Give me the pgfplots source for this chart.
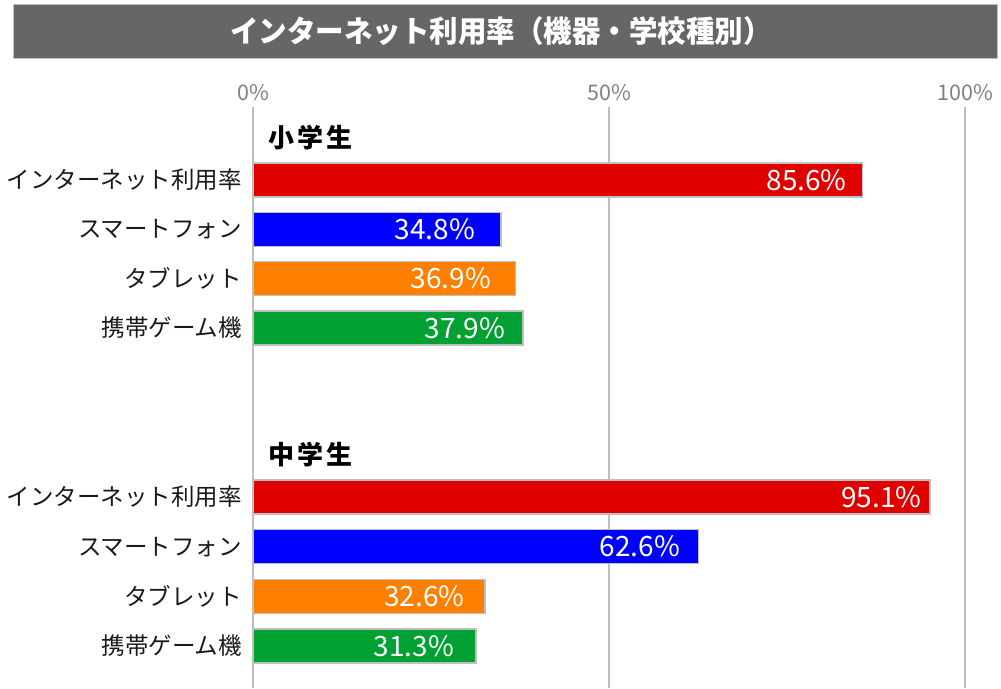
\documentclass[border=0pt]{standalone}
\usepackage{fontspec}
\setmainfont{Noto Sans CJK JP}
\usepackage{pgfplots}
\usepackage{pgfplotstable}
\pgfplotsset{compat=1.18}

\definecolor{cred}{HTML}{E00000}
\definecolor{cblue}{HTML}{0000FF}
\definecolor{corange}{HTML}{FF8000}
\definecolor{cgreen}{HTML}{00A032}
\definecolor{titlebg}{HTML}{666666}
\definecolor{edge}{HTML}{BFBFBF}

% x = percent, y = row position (px from top), off = label inset
\pgfplotstableread{
x y off
85.6 180 15
95.1 497 8
}\netdata
\pgfplotstableread{
x y off
34.8 229.3 25
62.6 546.7 18
}\phonedata
\pgfplotstableread{
x y off
36.9 278.6 24
32.6 596.4 20
}\tabdata
\pgfplotstableread{
x y off
37.9 328 17
31.3 646 21
}\gamedata

\begin{document}
\begin{tikzpicture}
\path[use as bounding box] (0,0) rectangle (1001pt,-688pt);
\fill[titlebg, draw=edge, line width=0.8pt] (13pt,-4pt) rectangle (997pt,-58pt);
\node[text=white, font=\fontsize{30}{32}\selectfont\bfseries, xscale=0.95] at (501pt,-31pt)
  {インターネット利用率（機器・学校種別）};

\begin{axis}[
    at={(253pt,-107pt)}, anchor=north west,
    scale only axis,
    width=712pt, height=581pt,
    xmin=0, xmax=100,
    ymin=107, ymax=688,
    y dir=reverse,
    xbar, bar shift=0pt,
    bar width=34pt,
    axis line style={draw=none},
    major tick length=0pt,
    xtick={0,50,100},
    xticklabels={0\%,50\%,100\%},
    xticklabel pos=upper,
    xticklabel style={font=\fontsize{21.5}{22}\selectfont, text=gray, anchor=base, yshift=6.5pt},
    xmajorgrids,
    grid style={draw=edge, line width=1.6pt},
    ytick={180,229.3,278.6,328,497,546.7,596.4,646},
    yticklabels={インターネット利用率,スマートフォン,タブレット,携帯ゲーム機,
                 インターネット利用率,スマートフォン,タブレット,携帯ゲーム機},
    yticklabel style={font=\fontsize{23.5}{25}\selectfont, text=black!90, anchor=east, inner sep=0pt, xshift=-11pt},
    point meta=x,
    nodes near coords={\pgfmathprintnumber[fixed,fixed zerofill,precision=1,assume math mode=true]{\pgfplotspointmeta}\%},
    visualization depends on={\thisrow{off} \as \off},
    every node near coord/.append style={anchor=east, text=white, inner sep=0pt,
        font=\fontsize{28}{30}\selectfont, xshift={-1pt*\off}},
    clip=false,
]
\addplot[bar shift=0pt, fill=cred, draw=edge, line width=1.5pt] table[x=x, y=y] {\netdata};
\addplot[bar shift=0pt, fill=cblue, draw=edge, line width=1.5pt] table[x=x, y=y] {\phonedata};
\addplot[bar shift=0pt, fill=corange, draw=edge, line width=1.5pt] table[x=x, y=y] {\tabdata};
\addplot[bar shift=0pt, fill=cgreen, draw=edge, line width=1.5pt] table[x=x, y=y] {\gamedata};

\node[anchor=west, inner sep=0pt, font=\fontsize{26}{28}\selectfont\bfseries] at (axis cs:2.1,138) {小\hspace{3pt}学\hspace{3pt}生};
\node[anchor=west, inner sep=0pt, font=\fontsize{26}{28}\selectfont\bfseries] at (axis cs:2.1,455) {中\hspace{3pt}学\hspace{3pt}生};
\end{axis}
\end{tikzpicture}
\end{document}
